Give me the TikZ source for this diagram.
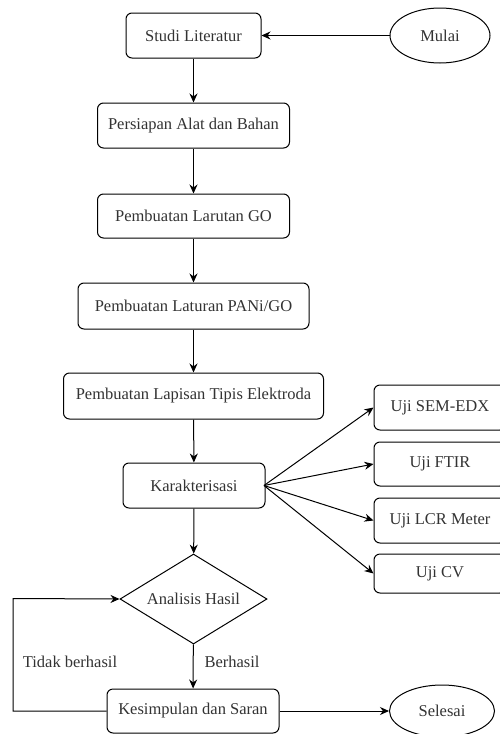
\documentclass[tikz,border=0pt]{standalone}
\usepackage{fontspec}
\setmainfont{Liberation Serif}
\usetikzlibrary{shapes.geometric,arrows.meta}
\begin{document}
\begin{tikzpicture}[x=1pt,y=-1pt,
  every node/.style={font=\fontsize{16.5}{19}\selectfont, text=black!80},
  box/.style={draw, rounded corners=6pt, line width=1pt, inner sep=0pt, align=center},
  oval/.style={draw, ellipse, line width=1pt, inner sep=0pt},
  dec/.style={draw, diamond, line width=1pt, inner sep=0pt, minimum width=147pt, minimum height=90pt, aspect=1.63},
  conn/.style={line width=1pt, -{Stealth[length=9pt,width=8pt]}},
  lbl/.style={inner sep=0pt}]
\useasboundingbox (0,0) rectangle (499,734);
\node[box, minimum width=135pt, minimum height=45pt] (studi) at (193.5,35.5) {Studi Literatur};
\node[oval, minimum width=100pt, minimum height=55pt] (mulai) at (440,35.5) {Mulai};
\node[box, minimum width=192pt, minimum height=45pt] (persiapan) at (193.5,125.5) {Persiapan Alat dan Bahan};
\node[box, minimum width=192pt, minimum height=44pt] (larutan) at (193.5,216) {Pembuatan Larutan GO};
\node[box, minimum width=231pt, minimum height=46pt] (pani) at (193.5,306) {Pembuatan Laturan PANi/GO};
\node[box, minimum width=260pt, minimum height=46pt] (lapisan) at (193.5,396) {Pembuatan Lapisan Tipis Elektroda};
\node[box, minimum width=142pt, minimum height=45pt] (karak) at (194,485.5) {Karakterisasi};
\node[box, minimum width=132pt, minimum height=45pt] (sem) at (440,407.5) {Uji SEM-EDX};
\node[box, minimum width=132pt, minimum height=44pt] (ftir) at (440,464) {Uji FTIR};
\node[box, minimum width=132pt, minimum height=45pt] (lcr) at (440,520.5) {Uji LCR Meter};
\node[box, minimum width=132pt, minimum height=39pt] (cv) at (440,573.5) {Uji CV};
\node[dec] (analisis) at (193.5,599) {Analisis Hasil};
\node[box, minimum width=172pt, minimum height=44pt] (kesimpulan) at (193,711) {Kesimpulan dan Saran};
\node[oval, minimum width=105pt, minimum height=52pt] (selesai) at (442,711) {Selesai};
\coordinate (loopA) at (13,711);
\coordinate (loopB) at (13,598.5);
\coordinate (kr) at (264,485.5);

\draw[conn] (mulai) -- (studi);
\draw[conn] (studi) -- (persiapan);
\draw[conn] (persiapan) -- (larutan);
\draw[conn] (larutan) -- (pani);
\draw[conn] (pani) -- (lapisan);
\draw[conn] (lapisan) -- (karak);
\draw[conn] (kr) -- (sem.west);
\draw[conn] (kr) -- (ftir.west);
\draw[conn] (kr) -- (lcr.west);
\draw[conn] (kr) -- (cv.west);
\draw[conn] (karak) -- (analisis);
\draw[conn] (analisis) -- (kesimpulan);
\draw[conn] (kesimpulan.west) -- (loopA) -- (loopB) -- (analisis.west);
\draw[conn] (kesimpulan) -- (selesai);
\node[lbl] (tidak) at (70,662) {Tidak berhasil};
\node[lbl] (berhasil) at (232,662) {Berhasil};
\end{tikzpicture}
\end{document}
